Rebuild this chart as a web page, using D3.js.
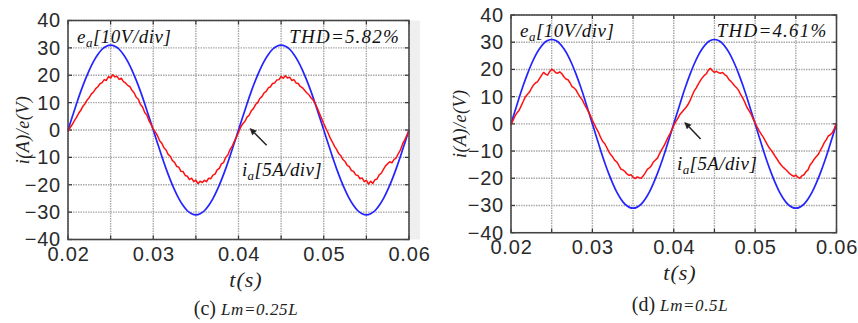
<!DOCTYPE html>
<html>
<head>
<meta charset="utf-8">
<script src="https://cdn.jsdelivr.net/npm/d3@7"></script>
<style>
  body { margin: 0; background: #fff; }
  svg { display: block; }
</style>
</head>
<body>
<svg width="858" height="323"></svg>
<script>
// ---- data ----
const timeTicks  = [0.02, 0.03, 0.04, 0.05, 0.06];
const valueTicks = [-40, -30, -20, -10, 0, 10, 20, 30, 40];

// e_a, sampled every 0.5 ms from t = 0.02 s (same in both panels)
const eVoltage = [
  0, 4.8, 9.6, 14.1, 18.2, 21.9, 25.1, 27.6, 29.5, 30.6,
  31.0, 30.6, 29.5, 27.6, 25.1, 21.9, 18.2, 14.1, 9.6, 4.8,
  0, -4.8, -9.6, -14.1, -18.2, -21.9, -25.1, -27.6, -29.5, -30.6,
  -31.0, -30.6, -29.5, -27.6, -25.1, -21.9, -18.2, -14.1, -9.6, -4.8,
  0, 4.8, 9.6, 14.1, 18.2, 21.9, 25.1, 27.6, 29.5, 30.6,
  31.0, 30.6, 29.5, 27.6, 25.1, 21.9, 18.2, 14.1, 9.6, 4.8,
  0, -4.8, -9.6, -14.1, -18.2, -21.9, -25.1, -27.6, -29.5, -30.6,
  -31.0, -30.6, -29.5, -27.6, -25.1, -21.9, -18.2, -14.1, -9.6, -4.8,
  0
];

// i_a, sampled every 0.25 ms from t = 0.02 s
const iCurrentC = [
  -0.6, 0.9, 2.0, 3.4, 4.6, 6.1, 7.2, 8.7, 9.6, 11.0,
  11.9, 13.2, 13.9, 15.1, 15.8, 16.9, 17.3, 18.4, 18.1, 19.5,
  19.0, 20.2, 19.4, 19.6, 18.5, 18.9, 17.7, 17.2, 16.3, 15.9,
  14.5, 13.6, 12.0, 11.2, 9.3, 8.4, 6.4, 5.5, 3.4, 2.0,
  0.4, -0.8, -2.1, -3.9, -4.8, -6.5, -7.3, -8.9, -9.6, -11.2,
  -11.8, -13.3, -13.6, -15.1, -15.2, -16.6, -16.9, -18.1, -17.6, -18.9,
  -18.3, -19.6, -18.7, -19.2, -18.4, -18.9, -17.6, -17.8, -16.5, -16.1,
  -14.6, -14.0, -12.4, -11.9, -10.0, -9.1, -7.2, -6.0, -4.2, -2.6,
  -0.9, 1.0, 2.3, 3.1, 4.7, 5.4, 7.0, 7.8, 9.3, 10.0,
  11.5, 12.2, 13.6, 14.1, 15.4, 15.8, 17.0, 17.2, 18.3, 18.4,
  19.6, 18.9, 19.8, 19.0, 19.3, 18.1, 18.4, 17.2, 17.0, 15.9,
  15.4, 14.5, 13.6, 12.9, 11.8, 11.0, 9.6, 7.9, 6.0, 4.2,
  2.3, 0.6, -1.0, -2.9, -4.3, -5.9, -7.1, -8.6, -9.4, -10.8,
  -11.5, -12.9, -13.4, -14.8, -15.1, -16.4, -16.6, -17.8, -17.5, -18.9,
  -18.4, -19.8, -18.7, -19.5, -18.2, -17.9, -16.4, -15.8, -14.4, -13.1,
  -12.3, -11.6, -12.0, -10.7, -10.2, -8.6, -7.3, -5.1, -3.6, -1.9,
  -0.2
];

const iCurrentD = [
  -0.4, 1.3, 2.9, 4.1, 5.0, 6.6, 8.2, 9.9, 10.8, 11.6,
  12.9, 14.2, 15.0, 15.4, 16.6, 17.8, 18.9, 18.3, 17.9, 19.2,
  20.1, 19.6, 18.8, 18.6, 19.1, 18.4, 17.3, 16.5, 16.2, 15.1,
  13.7, 13.2, 12.4, 11.0, 9.8, 8.9, 7.3, 6.0, 4.6, 3.1,
  1.3, -0.2, -1.8, -3.1, -4.9, -6.4, -7.2, -8.6, -10.1, -11.3,
  -12.2, -13.4, -14.0, -15.3, -16.6, -16.9, -17.5, -18.4, -18.9, -18.7,
  -19.6, -20.1, -19.5, -19.8, -20.0, -19.1, -18.0, -16.7, -16.2, -15.4,
  -14.0, -13.3, -12.6, -11.0, -9.6, -8.4, -6.9, -5.2, -3.9, -2.3,
  -0.6, 0.8, 2.0, 3.4, 4.3, 5.2, 6.0, 7.1, 8.5, 10.3,
  12.0, 13.1, 14.5, 15.8, 16.9, 17.8, 18.4, 19.7, 20.4, 19.5,
  18.9, 19.3, 18.8, 18.6, 18.9, 18.1, 17.6, 16.4, 15.7, 14.8,
  13.9, 13.2, 12.1, 10.6, 9.4, 7.8, 6.0, 4.9, 3.6, 1.8,
  0.3, -1.2, -2.6, -3.8, -4.9, -6.3, -7.6, -8.9, -9.8, -10.9,
  -12.1, -13.2, -14.4, -15.3, -16.1, -16.8, -17.5, -18.3, -18.9, -19.3,
  -18.8, -19.6, -20.0, -19.1, -18.7, -17.6, -16.9, -15.1, -14.2, -13.0,
  -12.1, -11.3, -9.8, -8.5, -6.9, -5.8, -4.4, -4.0, -3.2, -1.6,
  0.3
];

const thdLabels = ['THD=5.82%', 'THD=4.61%'];
const caseLabels = ['(c)', '(d)'];
const lmLabels = ['Lm=0.25L', 'Lm=0.5L'];

const tStart = 0.02, eStep = 0.0005, iStep = 0.00025;

// ---- layout ----
const svg = d3.select('svg');
const serif = "'Liberation Serif','Times New Roman',serif";
const sans = "'Liberation Sans',Arial,sans-serif";

const panels = [
  {left: 68, right: 409, top: 20.5, bottom: 239.5, titleX: 23, labelX: 246, capY: 315, current: iCurrentC, shadow: true},
  {left: 511, right: 836.5, top: 15, bottom: 232.7, titleX: 460, labelX: 680, capY: 311, current: iCurrentD, shadow: false}
];

panels.forEach((p, k) => {
  const x = d3.scaleLinear().domain([0.02, 0.06]).range([p.left, p.right]);
  const y = d3.scaleLinear().domain([-40, 40]).range([p.bottom, p.top]);
  const g = svg.append('g');

  if (p.shadow) {
    g.append('rect')
      .attr('x', p.right).attr('y', p.top)
      .attr('width', 11).attr('height', p.bottom - p.top)
      .attr('fill', '#efefef');
  }

  // dotted grid
  const gridX = x.ticks(8), gridY = y.ticks(8);
  g.selectAll('.gx').data(gridX).enter().append('line')
    .attr('x1', d => x(d)).attr('x2', d => x(d))
    .attr('y1', p.top).attr('y2', p.bottom)
    .attr('stroke', '#a8a8a8').attr('stroke-width', 1.4)
    .attr('stroke-dasharray', '1.5,1');
  g.selectAll('.gy').data(gridY).enter().append('line')
    .attr('y1', d => y(d)).attr('y2', d => y(d))
    .attr('x1', p.left).attr('x2', p.right)
    .attr('stroke', '#a8a8a8').attr('stroke-width', 1.4)
    .attr('stroke-dasharray', '1.5,1');

  // inward tick marks on all four sides
  const tk = 4;
  gridX.forEach(d => {
    g.append('line').attr('x1', x(d)).attr('x2', x(d)).attr('y1', p.top).attr('y2', p.top + tk)
      .attr('stroke', '#333').attr('stroke-width', 1.2);
    g.append('line').attr('x1', x(d)).attr('x2', x(d)).attr('y1', p.bottom).attr('y2', p.bottom - tk)
      .attr('stroke', '#333').attr('stroke-width', 1.2);
  });
  gridY.forEach(d => {
    g.append('line').attr('y1', y(d)).attr('y2', y(d)).attr('x1', p.left).attr('x2', p.left + tk)
      .attr('stroke', '#333').attr('stroke-width', 1.2);
    g.append('line').attr('y1', y(d)).attr('y2', y(d)).attr('x1', p.right).attr('x2', p.right - tk)
      .attr('stroke', '#333').attr('stroke-width', 1.2);
  });

  // traces
  const eLine = d3.line()
    .x((d, i) => x(tStart + i * eStep))
    .y(d => y(d))
    .curve(d3.curveNatural);
  const iLine = d3.line()
    .x((d, i) => x(tStart + i * iStep))
    .y(d => y(d));

  g.append('path').datum(eVoltage)
    .attr('d', eLine).attr('fill', 'none')
    .attr('stroke', '#2424ff').attr('stroke-width', 1.7);
  g.append('path').datum(p.current)
    .attr('d', iLine).attr('fill', 'none')
    .attr('stroke', '#ff1010').attr('stroke-width', 1.5)
    .attr('stroke-linejoin', 'round');

  // frame
  g.append('rect')
    .attr('x', p.left).attr('y', p.top)
    .attr('width', p.right - p.left).attr('height', p.bottom - p.top)
    .attr('fill', 'none').attr('stroke', '#444').attr('stroke-width', 1.5);

  // tick labels
  const yAxis = g.append('g')
    .attr('transform', `translate(${p.left},0)`)
    .call(d3.axisLeft(y).tickValues(valueTicks).tickSize(0).tickPadding(7));
  const xAxis = g.append('g')
    .attr('transform', `translate(0,${p.bottom})`)
    .call(d3.axisBottom(x).tickValues(timeTicks).tickFormat(d3.format('.2f')).tickSize(0).tickPadding(7));
  [yAxis, xAxis].forEach(a => {
    a.select('.domain').remove();
    a.selectAll('text')
      .attr('font-family', sans).attr('font-size', 20)
      .attr('letter-spacing', 0.8)
      .attr('fill', '#2a2a2a');
  });

  // annotations
  const eText = g.append('text')
    .attr('x', p.left + 9).attr('y', p.top + 22)
    .attr('font-family', serif).attr('font-style', 'italic')
    .attr('font-size', 19).attr('letter-spacing', 0.5).attr('fill', '#111');
  eText.append('tspan').text('e');
  eText.append('tspan').attr('font-size', 13).attr('dy', 4).text('a');
  eText.append('tspan').attr('dy', -4).text('[10V/div]');

  g.append('text')
    .attr('x', p.right - 9).attr('y', p.top + 22)
    .attr('text-anchor', 'end')
    .attr('font-family', serif).attr('font-style', 'italic')
    .attr('font-size', 19).attr('letter-spacing', 1.2).attr('fill', '#111')
    .text(thdLabels[k]);

  const iText = g.append('text')
    .attr('x', x(0.0404)).attr('y', y(-16.8))
    .attr('font-family', serif).attr('font-style', 'italic')
    .attr('font-size', 19).attr('letter-spacing', 0.4).attr('fill', '#111');
  iText.append('tspan').text('i');
  iText.append('tspan').attr('font-size', 13).attr('dy', 4).text('a');
  iText.append('tspan').attr('dy', -4).text('[5A/div]');

  // arrow pointing at the zero crossing
  const tip = [x(0.0413), y(0.7)], tail = [x(0.0433), y(-5.6)];
  const ang = Math.atan2(tip[1] - tail[1], tip[0] - tail[0]);
  const hl = 7, hw = 3.2;
  const base = [tip[0] - hl * Math.cos(ang), tip[1] - hl * Math.sin(ang)];
  g.append('line')
    .attr('x1', tail[0]).attr('y1', tail[1])
    .attr('x2', base[0]).attr('y2', base[1])
    .attr('stroke', '#222').attr('stroke-width', 1.5);
  g.append('path')
    .attr('d', `M${tip[0]},${tip[1]}` +
      `L${base[0] + hw * Math.sin(ang)},${base[1] - hw * Math.cos(ang)}` +
      `L${base[0] - hw * Math.sin(ang)},${base[1] + hw * Math.cos(ang)}Z`)
    .attr('fill', '#222');

  // axis titles
  g.append('text')
    .attr('transform', `translate(${p.titleX},${(p.top + p.bottom) / 2}) rotate(-90)`)
    .attr('text-anchor', 'middle').attr('dy', '0.35em')
    .attr('font-family', serif).attr('font-style', 'italic')
    .attr('font-size', 18).attr('letter-spacing', 0.5).attr('fill', '#222')
    .text('i(A)/e(V)');
  g.append('text')
    .attr('x', p.labelX).attr('y', p.bottom + 47)
    .attr('text-anchor', 'middle')
    .attr('font-family', serif).attr('font-style', 'italic')
    .attr('font-size', 22).attr('letter-spacing', 1).attr('fill', '#222')
    .text('t(s)');

  // caption
  const cap = g.append('text')
    .attr('x', p.labelX).attr('y', p.capY)
    .attr('text-anchor', 'middle')
    .attr('font-family', serif).attr('font-size', 20).attr('fill', '#222');
  cap.append('tspan').text(caseLabels[k] + ' ');
  cap.append('tspan').attr('font-style', 'italic').attr('font-size', 17)
    .attr('letter-spacing', 0.6).text(lmLabels[k]);
});
</script>
</body>
</html>
